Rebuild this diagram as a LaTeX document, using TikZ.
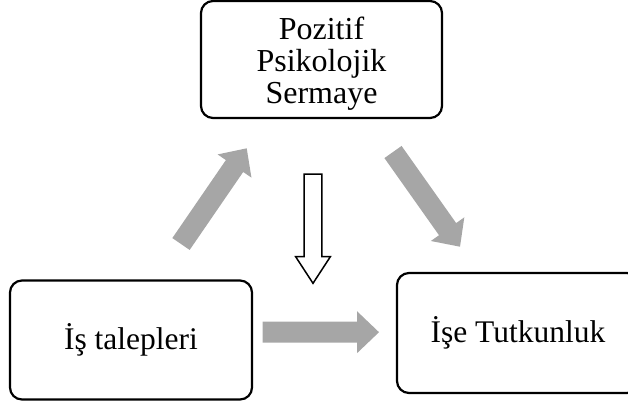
\documentclass[tikz,border=0pt]{standalone}
\usepackage{fontspec}
\setmainfont{Liberation Serif}
\usetikzlibrary{calc}
\definecolor{arrowgray}{RGB}{166,166,166}
\tikzset{
  roundbox/.style={draw=black, line width=2.2pt, rounded corners=12pt, fill=white,
    inner sep=0pt, align=center, font=\fontsize{31.5}{32}\selectfont},
  boxtext/.style={inner sep=0pt, align=center, font=\fontsize{32}{32}\selectfont},
  grayarrow/.style={fill=arrowgray, draw=none},
  hollowarrow/.style={fill=white, draw=black, line width=1.5pt, line join=miter},
}
% block arrow: #1 style, #2 tail, #3 tip, #4 half shaft width, #5 half head width, #6 head length
\newcommand\blockarrow[6]{%
  \coordinate (#2-base) at ($(#3)!#6!(#2)$);
  \path[#1] ($(#2)!#4!90:(#3)$) -- ($(#2-base)!#4!90:(#3)$) -- ($(#2-base)!#5!90:(#3)$)
    -- (#3) -- ($(#2-base)!#5!-90:(#3)$) -- ($(#2-base)!#4!-90:(#3)$)
    -- ($(#2)!#4!-90:(#3)$) -- cycle;}
\begin{document}
\begin{tikzpicture}[x=1pt, y=1pt]
  \useasboundingbox (0,0) rectangle (628,-410);
  \clip (0,0) rectangle (628,-410);

  % the three boxes
  \node[roundbox, minimum width=241pt, minimum height=117pt] (capital) at (321.5,-59.5) {};
  \node[boxtext] (capital-text) at (321.5,-64) {Pozitif\\Psikolojik\\Sermaye};
  \node[roundbox, minimum width=242pt, minimum height=119pt] (demands) at (131,-340)
    {İş talepleri};
  \node[roundbox, minimum width=242pt, minimum height=120pt] (passion) at (518,-333)
    {İşe Tutkunluk};

  % arrow end points
  \coordinate (ur-tail) at (181,-244);
  \coordinate (ur-tip) at (246.7,-148.3);
  \coordinate (dr-tail) at (393,-152);
  \coordinate (dr-tip) at (460,-246.7);
  \coordinate (hz-tail) at (262.7,-332.2);
  \coordinate (hz-tip) at (379,-332.2);
  \coordinate (vt-tail) at (313,-174);
  \coordinate (vt-tip) at (313,-283.3);

  % gray block arrows
  \blockarrow{grayarrow}{ur-tail}{ur-tip}{10.5pt}{20.5pt}{21.5pt}
  \blockarrow{grayarrow}{dr-tail}{dr-tip}{10.5pt}{20.5pt}{21.5pt}
  \blockarrow{grayarrow}{hz-tail}{hz-tip}{10.5pt}{21pt}{22pt}

  % hollow down arrow
  \blockarrow{hollowarrow}{vt-tail}{vt-tip}{8.85pt}{17.35pt}{26.6pt}
\end{tikzpicture}
\end{document}
